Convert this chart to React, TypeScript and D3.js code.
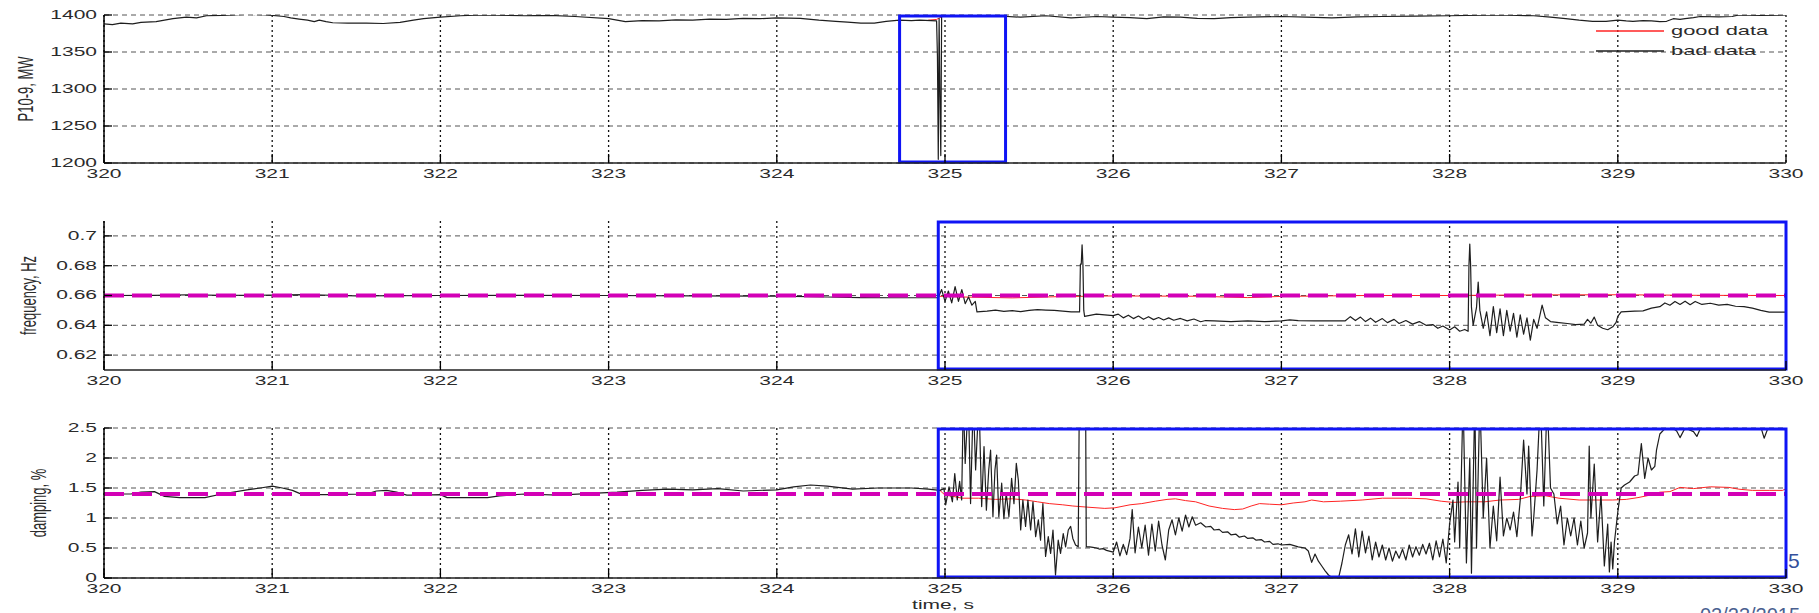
import React, { useEffect } from "react";
import * as d3 from "d3";

type Pt = [number, number];

// ---- data ----
const timeTicks = [320, 321, 322, 323, 324, 325, 326, 327, 328, 329, 330];
const powerTicks = [1200, 1250, 1300, 1350, 1400];
const freqTicks = [0.62, 0.64, 0.66, 0.68, 0.7];
const dampTicks = [0, 0.5, 1, 1.5, 2, 2.5];

const powerBad: Pt[] = [
  [320.0, 1388], [320.05, 1387], [320.1, 1389], [320.17, 1388], [320.22, 1390], [320.31, 1391],
  [320.36, 1393], [320.41, 1395], [320.49, 1397], [320.55, 1396], [320.61, 1399], [320.7, 1399.5],
  [320.77, 1400], [320.85, 1401], [320.97, 1400], [321.07, 1398], [321.11, 1396], [321.16, 1394.5],
  [321.21, 1393], [321.25, 1391], [321.28, 1393], [321.32, 1391], [321.36, 1389.5], [321.45, 1389],
  [321.56, 1389], [321.66, 1388.5], [321.76, 1390], [321.84, 1393], [321.9, 1395], [322.0, 1397],
  [322.12, 1399], [322.25, 1400], [322.5, 1399], [322.65, 1399.5], [322.8, 1398], [323.0, 1395],
  [323.1, 1391], [323.2, 1392.5], [323.3, 1392], [323.4, 1393.5], [323.5, 1393], [323.6, 1394.5],
  [323.7, 1394], [323.8, 1395.5], [323.9, 1395], [324.0, 1396], [324.14, 1395.5], [324.25, 1393],
  [324.35, 1391.5], [324.42, 1390.5], [324.5, 1389], [324.58, 1389], [324.65, 1391.5],
  [324.73, 1393], [324.8, 1392.5], [324.85, 1393], [324.95, 1392], [324.955, 1345], [324.96, 1205],
  [324.965, 1395], [324.97, 1290], [324.975, 1210], [324.98, 1400], [325.05, 1399], [325.15, 1400],
  [325.3, 1399], [325.45, 1397], [325.6, 1399], [325.75, 1396], [325.9, 1398], [326.0, 1397],
  [326.1, 1396.5], [326.2, 1395], [326.3, 1397.5], [326.4, 1397], [326.5, 1395.5], [326.6, 1395],
  [326.7, 1396.5], [326.8, 1397], [327.0, 1398], [327.15, 1397], [327.3, 1396], [327.45, 1397.5],
  [327.6, 1398], [327.8, 1398.5], [328.0, 1399], [328.3, 1400], [328.5, 1399], [328.6, 1397],
  [328.69, 1395], [328.77, 1393], [328.85, 1391.5], [328.93, 1391.5], [329.0, 1393], [329.05, 1392],
  [329.09, 1391.5], [329.15, 1392.5], [329.2, 1392], [329.25, 1391], [329.29, 1391.5], [329.33, 1395],
  [329.37, 1394], [329.4, 1395], [329.45, 1396.5], [329.49, 1398], [329.6, 1397.5], [329.68, 1398],
  [329.72, 1400], [329.85, 1399.5], [330.0, 1400],
];

const powerGood: Pt[] = [
  [324.9, 1393], [324.95, 1394], [325.0, 1400], [325.05, 1399],
];

const freqBad: Pt[] = [
  [320.0, 0.66], [320.3, 0.6601], [320.5, 0.6605], [320.7, 0.6601], [321.0, 0.6602], [321.2, 0.6606],
  [321.4, 0.66], [321.5, 0.6598], [322.0, 0.66], [322.5, 0.6601], [323.0, 0.66], [323.5, 0.6598],
  [324.0, 0.6596], [324.3, 0.659], [324.5, 0.6586], [324.7, 0.6585], [324.9, 0.6585], [324.96, 0.6586],
  [324.98, 0.664], [325.0, 0.656], [325.02, 0.663], [325.04, 0.655], [325.06, 0.666], [325.08, 0.656],
  [325.1, 0.664], [325.12, 0.6545], [325.14, 0.659], [325.16, 0.6535], [325.18, 0.656], [325.19, 0.649],
  [325.25, 0.6495], [325.3, 0.6502], [325.35, 0.6493], [325.4, 0.6498], [325.45, 0.6492], [325.5, 0.65],
  [325.55, 0.6505], [325.6, 0.6502], [325.65, 0.65], [325.7, 0.6495], [325.75, 0.649], [325.8, 0.649],
  [325.805, 0.681], [325.81, 0.681], [325.815, 0.694], [325.82, 0.681], [325.825, 0.65], [325.83, 0.646],
  [325.9, 0.6475], [325.95, 0.647], [326.0, 0.6465], [326.03, 0.6475], [326.06, 0.645], [326.09, 0.6468],
  [326.12, 0.6445], [326.15, 0.6462], [326.18, 0.644], [326.21, 0.6458], [326.24, 0.6438], [326.27, 0.6452],
  [326.3, 0.6436], [326.33, 0.645], [326.36, 0.6434], [326.4, 0.6446], [326.44, 0.643], [326.48, 0.6442],
  [326.52, 0.6424], [326.55, 0.6432], [326.6, 0.643], [326.7, 0.6425], [326.8, 0.643], [326.9, 0.6424],
  [327.0, 0.643], [327.05, 0.6436], [327.1, 0.6432], [327.2, 0.643], [327.3, 0.643], [327.38, 0.643],
  [327.41, 0.6458], [327.44, 0.6432], [327.47, 0.6455], [327.5, 0.6425], [327.53, 0.6448], [327.56, 0.642],
  [327.6, 0.6445], [327.63, 0.6418], [327.67, 0.644], [327.7, 0.6412], [327.74, 0.6432], [327.78, 0.6408],
  [327.82, 0.6425], [327.86, 0.64], [327.9, 0.6405], [327.93, 0.638], [327.96, 0.6395], [328.0, 0.6368],
  [328.03, 0.639], [328.06, 0.636], [328.09, 0.6372], [328.11, 0.636], [328.115, 0.68], [328.12, 0.6945],
  [328.125, 0.68], [328.13, 0.652], [328.14, 0.64], [328.16, 0.652], [328.17, 0.669], [328.18, 0.65],
  [328.2, 0.638], [328.22, 0.649], [328.24, 0.633], [328.26, 0.6525], [328.28, 0.635], [328.3, 0.651],
  [328.32, 0.633], [328.34, 0.65], [328.36, 0.636], [328.38, 0.648], [328.4, 0.632], [328.42, 0.647],
  [328.44, 0.634], [328.46, 0.645], [328.48, 0.63], [328.5, 0.644], [328.52, 0.638], [328.55, 0.6535],
  [328.57, 0.645], [328.6, 0.6425], [328.65, 0.6418], [328.7, 0.6412], [328.75, 0.6405], [328.8, 0.6408],
  [328.82, 0.644], [328.84, 0.6415], [328.86, 0.6455], [328.88, 0.64], [328.91, 0.638], [328.94, 0.637],
  [328.97, 0.639], [328.99, 0.642], [329.0, 0.646], [329.02, 0.649], [329.1, 0.6495], [329.15, 0.6497],
  [329.2, 0.6515], [329.25, 0.6525], [329.28, 0.655], [329.31, 0.6535], [329.34, 0.656], [329.37, 0.654],
  [329.4, 0.6562], [329.43, 0.6538], [329.46, 0.656], [329.5, 0.654], [329.55, 0.6548], [329.6, 0.6535],
  [329.65, 0.654], [329.7, 0.6528], [329.75, 0.6525], [329.8, 0.6515], [329.85, 0.65], [329.9, 0.6488],
  [330.0, 0.6488],
];

const freqGood: Pt[] = [
  [324.96, 0.6595], [325.1, 0.659], [325.4, 0.6584], [325.7, 0.6593], [326.0, 0.6597], [326.5, 0.6595],
  [326.8, 0.6586], [327.0, 0.6594], [327.5, 0.66], [328.0, 0.66], [328.5, 0.6604], [329.0, 0.6605],
  [329.5, 0.6601], [330.0, 0.66],
];

const dampBad: Pt[] = [
  [320.0, 1.4], [320.16, 1.4], [320.22, 1.43], [320.3, 1.44], [320.36, 1.36], [320.45, 1.34], [320.6, 1.34],
  [320.7, 1.4], [320.85, 1.47], [320.93, 1.5], [321.0, 1.53], [321.06, 1.5], [321.12, 1.46], [321.18, 1.39],
  [321.35, 1.39], [321.56, 1.4], [321.62, 1.45], [321.68, 1.46], [321.74, 1.43], [321.8, 1.38], [321.9, 1.38],
  [322.0, 1.39], [322.04, 1.34], [322.28, 1.34], [322.35, 1.37], [322.5, 1.4], [322.7, 1.38], [322.9, 1.41],
  [323.05, 1.43], [323.2, 1.46], [323.35, 1.48], [323.5, 1.47], [323.65, 1.49], [323.8, 1.45], [324.0, 1.47],
  [324.1, 1.52], [324.2, 1.55], [324.3, 1.53], [324.45, 1.48], [324.6, 1.5], [324.8, 1.5], [324.9, 1.48],
  [324.97, 1.46], [324.994, 1.49], [325.004, 1.22], [325.024, 1.52], [325.044, 1.27], [325.058, 1.74],
  [325.073, 1.3], [325.087, 1.61], [325.099, 1.3], [325.109, 3.0], [325.12, 1.91], [325.139, 3.0],
  [325.152, 1.24], [325.168, 3.0], [325.182, 1.8], [325.202, 3.0], [325.218, 1.19], [325.232, 2.19],
  [325.246, 1.13], [325.26, 1.8], [325.271, 2.13], [325.285, 1.02], [325.297, 1.8], [325.307, 2.05],
  [325.32, 1.02], [325.337, 1.58], [325.35, 0.99], [325.364, 1.41], [325.38, 1.02], [325.396, 1.66],
  [325.41, 1.24], [325.424, 1.91], [325.436, 1.63], [325.45, 0.8], [325.463, 1.3], [325.479, 0.86],
  [325.493, 1.3], [325.509, 0.8], [325.523, 1.27], [325.539, 0.69], [325.555, 0.97], [325.568, 0.63],
  [325.582, 1.24], [325.598, 0.36], [325.614, 0.69], [325.628, 0.41], [325.642, 0.8], [325.657, 0.05],
  [325.673, 0.63], [325.687, 0.41], [325.703, 0.74], [325.717, 0.52], [325.733, 0.8], [325.747, 0.86],
  [325.76, 0.66], [325.776, 0.55], [325.792, 0.52], [325.8, 3.5], [325.835, 3.5], [325.84, 0.52],
  [325.86, 0.52], [325.88, 0.51], [325.9, 0.5], [325.92, 0.48], [325.94, 0.49], [325.96, 0.46],
  [326.0, 0.43], [326.02, 0.6], [326.04, 0.37], [326.06, 0.56], [326.08, 0.39], [326.1, 0.66],
  [326.113, 1.14], [326.13, 0.42], [326.15, 0.85], [326.17, 0.5], [326.19, 0.88], [326.21, 0.38],
  [326.23, 0.9], [326.25, 0.45], [326.27, 0.95], [326.29, 0.55], [326.31, 0.3], [326.33, 0.8],
  [326.35, 0.97], [326.37, 0.72], [326.39, 1.0], [326.41, 0.78], [326.43, 1.05], [326.45, 0.85],
  [326.47, 1.02], [326.49, 0.88], [326.52, 0.92], [326.55, 0.85], [326.58, 0.86], [326.6, 0.8],
  [326.63, 0.81], [326.65, 0.76], [326.68, 0.77], [326.7, 0.72], [326.73, 0.73], [326.75, 0.68],
  [326.78, 0.7], [326.8, 0.66], [326.83, 0.67], [326.85, 0.63], [326.88, 0.64], [326.9, 0.6],
  [326.93, 0.61], [326.95, 0.56], [326.98, 0.57], [327.0, 0.55], [327.05, 0.56], [327.1, 0.52],
  [327.14, 0.5], [327.16, 0.45], [327.18, 0.26], [327.2, 0.4], [327.22, 0.28], [327.24, 0.2],
  [327.26, 0.12], [327.28, 0.05], [327.3, 0.01], [327.32, -0.05], [327.34, 0.0], [327.36, 0.25],
  [327.38, 0.55], [327.4, 0.72], [327.42, 0.4], [327.44, 0.82], [327.46, 0.35], [327.48, 0.78],
  [327.5, 0.42], [327.52, 0.7], [327.54, 0.3], [327.56, 0.6], [327.58, 0.35], [327.6, 0.55],
  [327.62, 0.3], [327.64, 0.5], [327.66, 0.28], [327.68, 0.45], [327.7, 0.33], [327.72, 0.48],
  [327.74, 0.3], [327.76, 0.55], [327.78, 0.35], [327.8, 0.52], [327.82, 0.38], [327.84, 0.56],
  [327.86, 0.4], [327.88, 0.58], [327.9, 0.3], [327.92, 0.62], [327.94, 0.35], [327.96, 0.65],
  [327.98, 0.25], [328.0, 0.9], [328.02, 1.3], [328.03, 0.6], [328.05, 1.6], [328.06, 0.5],
  [328.08, 3.0], [328.1, 0.25], [328.12, 2.0], [328.13, 0.08], [328.15, 3.0], [328.16, 0.5],
  [328.18, 3.0], [328.2, 1.0], [328.22, 2.0], [328.24, 0.5], [328.26, 1.2], [328.28, 0.62],
  [328.3, 1.68], [328.32, 0.7], [328.34, 1.0], [328.36, 0.8], [328.38, 1.1], [328.4, 0.69],
  [328.42, 1.3], [328.44, 2.3], [328.46, 1.4], [328.47, 2.2], [328.49, 0.7], [328.5, 1.0],
  [328.52, 1.8], [328.54, 3.0], [328.56, 1.2], [328.58, 3.0], [328.6, 1.5], [328.62, 1.4],
  [328.64, 0.9], [328.66, 1.2], [328.68, 0.55], [328.7, 1.0], [328.72, 0.7], [328.74, 1.0],
  [328.76, 0.55], [328.78, 0.95], [328.8, 0.5], [328.82, 0.75], [328.83, 2.2], [328.84, 1.0],
  [328.86, 1.9], [328.88, 0.6], [328.9, 1.4], [328.92, 0.2], [328.94, 0.9], [328.95, 0.1],
  [328.96, 0.6], [328.97, 0.15], [328.98, 0.6], [329.0, 1.1], [329.02, 1.5], [329.04, 1.55],
  [329.07, 1.6], [329.1, 1.7], [329.12, 1.72], [329.14, 2.24], [329.16, 1.66], [329.18, 2.0],
  [329.2, 1.8], [329.22, 1.86], [329.23, 2.13], [329.25, 2.4], [329.29, 2.52], [329.3, 2.55],
  [329.35, 2.45], [329.37, 2.34], [329.4, 2.5], [329.45, 2.44], [329.47, 2.36], [329.5, 2.55],
  [329.55, 2.6], [329.6, 2.55], [329.7, 2.6], [329.8, 2.55], [329.85, 2.52], [329.87, 2.33],
  [329.9, 2.55], [330.0, 2.6],
];

const dampGood: Pt[] = [
  [324.97, 1.46], [325.0, 1.38], [325.05, 1.36], [325.1, 1.33], [325.2, 1.33], [325.3, 1.31], [325.4, 1.32],
  [325.48, 1.3], [325.55, 1.27], [325.62, 1.24], [325.7, 1.22], [325.76, 1.2], [325.85, 1.18], [325.95, 1.16],
  [326.01, 1.17], [326.1, 1.22], [326.17, 1.24], [326.25, 1.28], [326.32, 1.31], [326.37, 1.32], [326.43, 1.29],
  [326.49, 1.27], [326.57, 1.2], [326.65, 1.16], [326.72, 1.14], [326.77, 1.15], [326.82, 1.2], [326.87, 1.24],
  [326.93, 1.23], [327.0, 1.22], [327.07, 1.25], [327.14, 1.27], [327.18, 1.3], [327.25, 1.27], [327.35, 1.28],
  [327.48, 1.3], [327.6, 1.33], [327.75, 1.33], [327.86, 1.32], [327.95, 1.28], [328.02, 1.26], [328.1, 1.27],
  [328.21, 1.27], [328.3, 1.3], [328.41, 1.31], [328.48, 1.36], [328.57, 1.37], [328.65, 1.33], [328.77, 1.3],
  [328.9, 1.3], [328.97, 1.3], [329.05, 1.31], [329.12, 1.34], [329.19, 1.38], [329.25, 1.43], [329.31, 1.44],
  [329.37, 1.51], [329.45, 1.49], [329.55, 1.52], [329.66, 1.51], [329.72, 1.48], [329.8, 1.46], [329.9, 1.46],
  [329.98, 1.46], [330.0, 1.49],
];

const freqThreshold = 0.66;
const dampThreshold = 1.4;
const highlightWindows: Pt[] = [[324.73, 325.36], [324.96, 330], [324.96, 330]];
const legendLabels = ["good data", "bad data"];
const axisLabels = ["P10-9, MW", "frequency, Hz", "damping, %"];

// ---- layout ----
const W = 1819;
const H = 613;
const LEFT = 104;
const RIGHT = 1786;
const SX = 1.75; // text in the source is stretched horizontally
const FONT = "'Liberation Sans', Arial, Helvetica, sans-serif";
const GOOD = "#ff2424";
const BAD = "#1e1e1e";
const MAGENTA = "#d300b6";
const BLUE = "#0f14f5";

const panels = [
  { top: 15, bottom: 163, domain: [1200, 1400], ticks: powerTicks, labelX: 25, bad: powerBad, good: powerGood, threshold: null as number | null },
  { top: 221, bottom: 370, domain: [0.61, 0.71], ticks: freqTicks, labelX: 28, bad: freqBad, good: freqGood, threshold: freqThreshold },
  { top: 428, bottom: 578, domain: [0, 2.5], ticks: dampTicks, labelX: 38, bad: dampBad, good: dampGood, threshold: dampThreshold },
];

function Txt({ x, y, anchor = "middle", size = 12, rotate = false, fill = "#2b2b2b", baseline = "central", stretch = SX, children }: any) {
  return (
    <text
      transform={`translate(${x},${y}) scale(${stretch},1)${rotate ? " rotate(-90)" : ""}`}
      textAnchor={anchor}
      dominantBaseline={baseline}
      fontSize={size}
      fontFamily={FONT}
      fill={fill}
    >
      {children}
    </text>
  );
}

function Panel({ p, idx }: { p: (typeof panels)[number]; idx: number }) {
  const x = d3.scaleLinear().domain([320, 330]).range([LEFT, RIGHT]);
  const y = d3.scaleLinear().domain(p.domain).range([p.bottom, p.top]);
  const line = d3.line<Pt>().x((d) => x(d[0])).y((d) => y(d[1]));
  const clipId = `clip-${idx}`;
  const win = highlightWindows[idx];
  const midY = (p.top + p.bottom) / 2;

  return (
    <g>
      <defs>
        <clipPath id={clipId}>
          <rect x={LEFT} y={p.top} width={RIGHT - LEFT} height={p.bottom - p.top} />
        </clipPath>
      </defs>

      {/* grid */}
      {p.ticks.map((t) => (
        <line key={`h${t}`} x1={LEFT} x2={RIGHT} y1={y(t)} y2={y(t)} stroke="#555" strokeWidth={1} strokeDasharray="5 4" />
      ))}
      {timeTicks.map((t) => (
        <line key={`v${t}`} x1={x(t)} x2={x(t)} y1={p.top} y2={p.bottom} stroke="#111" strokeWidth={1.3} strokeDasharray="2 3" />
      ))}

      {/* data */}
      <g clipPath={`url(#${clipId})`}>
        <path d={line(p.good) ?? ""} fill="none" stroke={GOOD} strokeWidth={1} />
        <path d={line(p.bad) ?? ""} fill="none" stroke={BAD} strokeWidth={1.2} strokeLinejoin="round" />
        {p.threshold !== null && (
          <line x1={LEFT} x2={RIGHT} y1={y(p.threshold)} y2={y(p.threshold)} stroke={MAGENTA} strokeWidth={4} strokeDasharray="20 8" />
        )}
      </g>

      {/* highlighted window */}
      <rect
        x={x(win[0])}
        y={p.top + 1}
        width={x(win[1]) - x(win[0])}
        height={p.bottom - p.top - 2}
        fill="none"
        stroke={BLUE}
        strokeWidth={3}
      />

      {/* axes */}
      <line x1={LEFT} x2={LEFT} y1={p.top} y2={p.bottom} stroke="#000" strokeWidth={1.5} />
      <line x1={LEFT} x2={RIGHT} y1={p.bottom} y2={p.bottom} stroke="#222" strokeWidth={1.3} />
      {p.ticks.map((t) => (
        <g key={`yt${t}`}>
          <line x1={LEFT} x2={LEFT + 8} y1={y(t)} y2={y(t)} stroke="#000" strokeWidth={1.3} />
          <Txt x={LEFT - 7} y={y(t)} anchor="end">{String(t)}</Txt>
        </g>
      ))}
      {timeTicks.map((t) => (
        <g key={`xt${t}`}>
          <line x1={x(t)} x2={x(t)} y1={p.bottom} y2={p.bottom - 9} stroke="#000" strokeWidth={1.3} />
          <Txt x={x(t)} y={p.bottom + 11.5}>{String(t)}</Txt>
        </g>
      ))}
      <Txt x={p.labelX} y={midY} size={13} rotate>{axisLabels[idx]}</Txt>

      {idx === 0 && (
        <g>
          {legendLabels.map((lab, i) => (
            <g key={lab}>
              <line x1={1596} x2={1664} y1={31 + i * 20} y2={31 + i * 20} stroke={i === 0 ? GOOD : BAD} strokeWidth={1.3} />
              <Txt x={1671} y={31 + i * 20} anchor="start" size={12.5}>{lab}</Txt>
            </g>
          ))}
        </g>
      )}
    </g>
  );
}

export default function App() {
  useEffect(() => {
    document.body.style.margin = "0";
  }, []);

  return (
    <svg width={W} height={H} style={{ display: "block", position: "absolute", left: 0, top: 0, background: "#fff" }}>
      <rect width={W} height={H} fill="#fff" />
      {panels.map((p, i) => (
        <Panel key={i} p={p} idx={i} />
      ))}
      <Txt x={943} y={609} baseline="auto">time, s</Txt>
      <Txt x={1788} y={568} anchor="start" size={21} baseline="auto" stretch={1} fill="#34509c">5</Txt>
      <Txt x={1700} y={622} anchor="start" size={20} baseline="auto" stretch={1} fill="#4a6090">02/23/2015</Txt>
    </svg>
  );
}
